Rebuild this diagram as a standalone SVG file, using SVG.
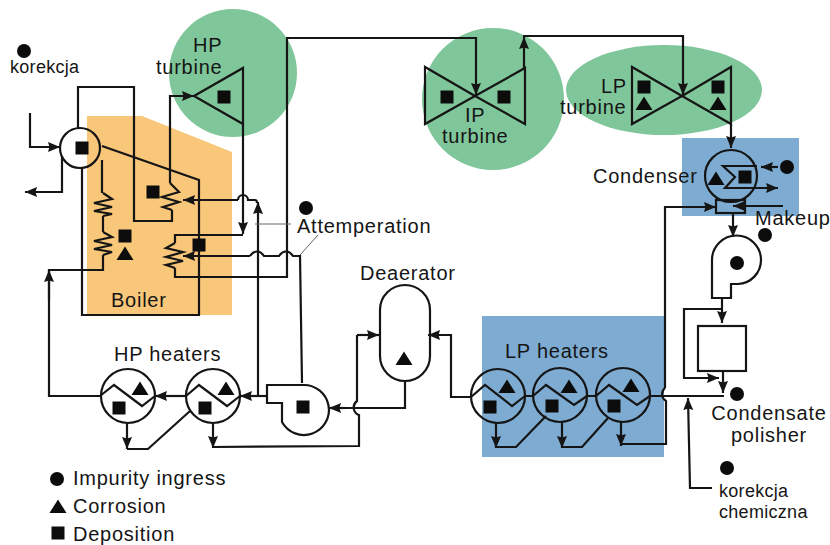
<svg xmlns="http://www.w3.org/2000/svg" width="830" height="545" viewBox="0 0 830 545">
<defs>
<style>
text{font-family:"Liberation Sans",Arial,sans-serif;font-size:20px;letter-spacing:.75px;fill:#151515}
text.s{font-size:18px;letter-spacing:.3px}
.l,.n{fill:none;stroke:#151515;stroke-width:2.200;stroke-linejoin:miter}
.a{marker-end:url(#ah)}
.t{stroke:#666;stroke-width:1;fill:none}
.f{fill:#0c0c0c}
</style>
<marker id="ah" markerUnits="userSpaceOnUse" markerWidth="13" markerHeight="12" refX="12" refY="6" orient="auto"><path d="M0 1L12 6L0 11L1.500 6Z" fill="#151515"/></marker>
<g id="sq"><rect x="-6.500" y="-6.500" width="13" height="13" class="f"/></g>
<g id="tr"><path d="M0 -7.500L8.500 6H-8.500Z" class="f"/></g>
<g id="ci"><circle r="7" class="f"/></g>
</defs>
<rect width="830" height="545" fill="#fff"/>
<g id="zones">
<path d="M87 116H142L232 152V315H87Z" fill="#f8c77a"/>
<circle cx="233" cy="73" r="64" fill="#80c69b"/>
<circle cx="493" cy="99" r="71" fill="#80c69b"/>
<ellipse cx="664" cy="90" rx="98" ry="45" fill="#80c69b"/>
<rect x="682" y="138" width="117" height="78" fill="#7dabd1"/>
<rect x="482" y="316" width="182" height="141" fill="#7dabd1"/>
</g>
<g id="connectors">
<path class="l" d="M78 128V87H134V221H172V210"/>
<path class="l a" d="M170 183V96H194"/>
<path class="l a" d="M243 124V234"/>
<path class="l" d="M243 235H175V243"/>
<path class="l a" d="M175 268V277H287V38H476V95"/>
<path class="l" d="M102 146L199 180V315H82V168"/>
<path class="l a" d="M62 156V192H25"/>
<path class="l a" d="M30 113V147H60"/>
<path class="l" d="M102 160V193"/>
<path class="l" d="M103 216V232"/>
<path class="l" d="M103 255V270H49V396H100"/>
<path class="l a" d="M49 300V270"/>
<path class="l" d="M238 200A5 5 0 0 1 248 200H255Q257 200 257 203"/>
<path class="l a" d="M238 200H183"/>
<path class="l a" d="M258 395V202"/>
<path class="l a" d="M250 256H183"/>
<path class="l" d="M250 256C254 250 260 250 264 256H279C283 250 289 250 293 256H300L302 383"/>
<path class="l a" d="M266 396H240"/>
<path class="l a" d="M186 396H155"/>
<path class="l a" d="M127 423V449"/>
<path class="l" d="M127 449H148L190 411"/>
<path class="l a" d="M213 423V448"/>
<path class="l" d="M213 447L359 446V415A8 8 0 0 1 357 401V335"/>
<path class="l a" d="M357 335H379"/>
<path class="l" d="M405 381V408H345"/>
<path class="l a" d="M345 408H329"/>
<path class="l a" d="M524 68V37"/>
<path class="l a" d="M523 36H683V95"/>
<path class="l a" d="M731 124V148"/>
<path class="l a" d="M778 167H761"/>
<path class="l a" d="M745 188H778"/>
<path class="l a" d="M783 206H733"/>
<path class="l a" d="M665 388V207H716"/>
<path class="l a" d="M733 213V237"/>
<path class="l a" d="M722 298V323"/>
<path class="l a" d="M722 309H684V378H719"/>
<path class="l a" d="M723 372V393"/>
<path class="l" d="M650 396H724"/>
<path class="l" d="M665 388A8 8 0 0 0 666 401V444H621"/>
<path class="l a" d="M621 421V446"/>
<path class="l a" d="M562 422V448"/>
<path class="l" d="M562 447H582L608 418"/>
<path class="l a" d="M496 422V448"/>
<path class="l" d="M496 447H516L546 416"/>
<path class="l" d="M524 396H533M587 396H596"/>
<path class="l a" d="M471 397H451V335H428"/>
<path class="l a" d="M712 488H690L688 398"/>
<path class="t" d="M255 224H291M300 255L318 235"/>
</g>
<g id="drum"><circle class="n" cx="80" cy="148" r="20"/><use href="#sq" x="82" y="148"/></g>
<g id="sh1"><path class="l" d="M170 183L179 192L162 197L179 202L163 207L172 210"/><use href="#sq" x="153" y="192"/></g>
<g id="sh2"><path class="l" d="M175 243L166 248L183 252L166 257L183 261L166 265L175 268"/><use href="#sq" x="199" y="245"/></g>
<g id="boiler"><path class="l" d="M103 193L112 199L94 203L112 207L94 211L112 214L103 216"/><path class="l" d="M103 232L112 237L94 241L112 245L94 249L112 252L103 255"/><use href="#sq" x="125" y="236"/><use href="#tr" x="125" y="254"/><text x="111" y="307">Boiler</text></g>
<g id="hp-turbine"><path class="n" d="M194 96L243 68V124Z"/><use href="#sq" x="224" y="97"/><text x="193" y="52">HP</text><text x="156" y="74">turbine</text></g>
<g id="ip-turbine"><path class="n" d="M475 96L425 67V124ZM475 96L525 68V124Z"/><use href="#sq" x="447" y="97"/><use href="#sq" x="504" y="97"/><text x="465" y="122">IP</text><text x="442" y="143">turbine</text></g>
<g id="lp-turbine"><path class="n" d="M682 96L632 67V124ZM682 96L731 67V124Z"/><use href="#sq" x="644" y="87"/><use href="#tr" x="644" y="104"/><use href="#sq" x="718" y="87"/><use href="#tr" x="718" y="104"/><text x="601" y="93">LP</text><text x="560" y="114">turbine</text></g>
<g id="condenser"><circle class="n" cx="731" cy="176" r="26"/><path class="l" d="M757 166H723L735 177L725 188H745"/><use href="#tr" x="716" y="179"/><use href="#sq" x="745" y="177"/><rect class="n" x="716" y="200" width="29" height="13"/><use href="#ci" x="787" y="167"/><text x="593" y="183">Condenser</text><text x="755" y="225">Makeup</text></g>
<g id="condensate-pump"><path class="n" d="M712 298V260A24.500 24.500 0 0 1 761 260A24 24 0 0 1 738 284H731V298Z"/><use href="#ci" x="737" y="263"/><use href="#ci" x="765" y="235"/></g>
<g id="polisher"><rect class="n" x="698" y="326" width="48" height="45" fill="#fff"/><use href="#ci" x="737" y="394"/><text x="769" y="420" text-anchor="middle">Condensate</text><text x="769" y="442" text-anchor="middle">polisher</text></g>
<g id="chem"><use href="#ci" x="727" y="468"/><text class="s" x="719" y="497">korekcja</text><text class="s" x="719" y="518">chemiczna</text></g>
<g id="lp-heaters">
<circle class="n" cx="498" cy="396" r="27"/><path class="l" d="M471 397L485 385L512 406L525 396"/><use href="#tr" x="507" y="387"/><use href="#sq" x="490" y="407"/>
<circle class="n" cx="560" cy="395" r="27"/><path class="l" d="M533 396L546 385L574 405L587 396"/><use href="#tr" x="569" y="387"/><use href="#sq" x="552" y="406"/>
<circle class="n" cx="623" cy="395" r="27"/><path class="l" d="M596 396L609 385L637 405L650 396"/><use href="#tr" x="631" y="386"/><use href="#sq" x="614" y="406"/>
<text x="505" y="358">LP heaters</text></g>
<g id="deaerator"><path class="n" d="M380 310A25 25 0 0 1 430 310V356A25 25 0 0 1 380 356Z"/><use href="#tr" x="404" y="359"/><text x="360" y="280">Deaerator</text></g>
<g id="feed-pump"><path class="n" d="M267 385H303A25 25 0 1 1 282 422V403H267Z"/><use href="#sq" x="303" y="407"/></g>
<g id="hp-heaters">
<circle class="n" cx="128" cy="396" r="27"/><path class="l" d="M100 396L114 385L142 406L155 396"/><use href="#tr" x="140" y="389"/><use href="#sq" x="119" y="408"/>
<circle class="n" cx="213" cy="396" r="27"/><path class="l" d="M186 396L199 385L227 406L240 396"/><use href="#tr" x="226" y="389"/><use href="#sq" x="205" y="408"/>
<text x="114" y="361">HP heaters</text></g>
<g id="attemperation"><use href="#ci" x="306" y="208"/><text x="297" y="233">Attemperation</text></g>
<g id="korekcja"><use href="#ci" x="24" y="51"/><text class="s" x="10" y="73">korekcja</text></g>
<g id="legend"><use href="#ci" x="57" y="479"/><use href="#tr" x="58" y="507"/><use href="#sq" x="58" y="533"/><text x="73" y="485">Impurity ingress</text><text x="73" y="513">Corrosion</text><text x="73" y="541">Deposition</text></g>
</svg>
